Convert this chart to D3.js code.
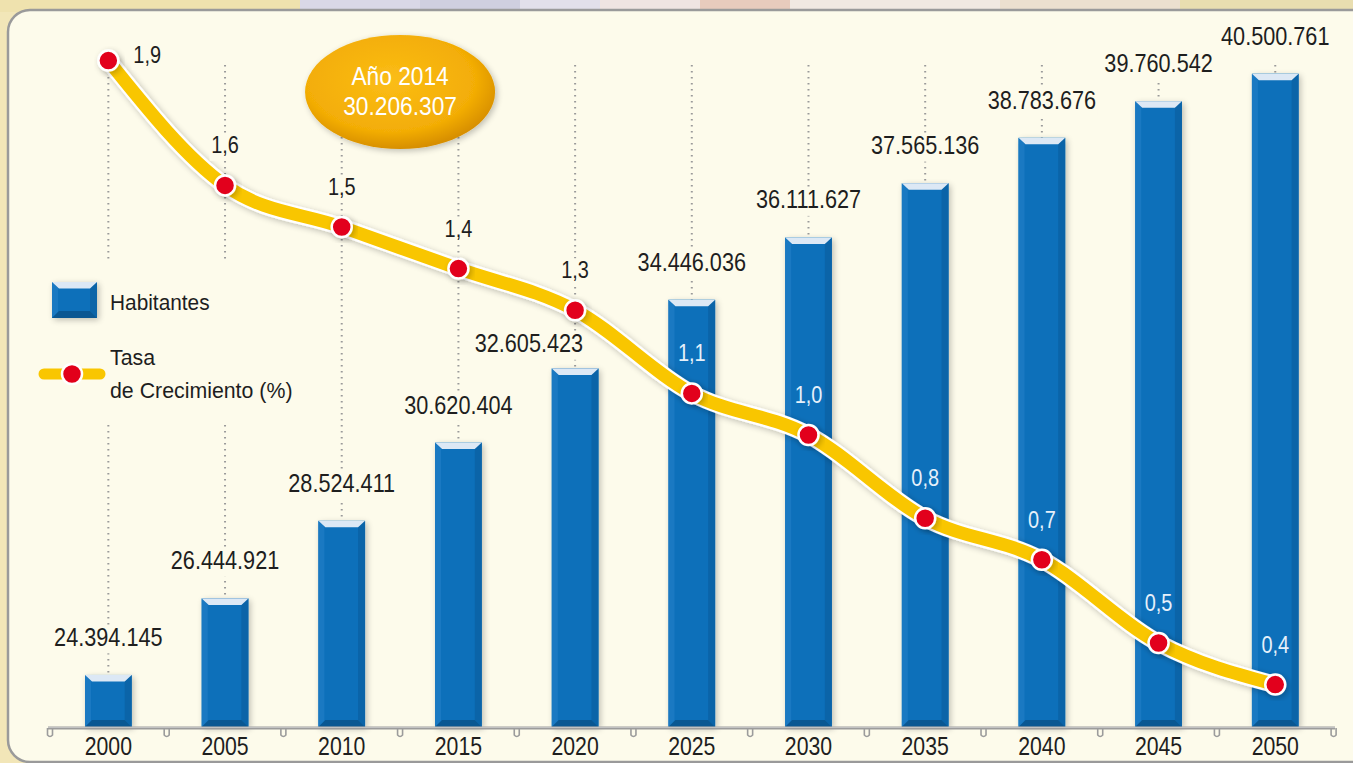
<!DOCTYPE html>
<html><head><meta charset="utf-8">
<script src="https://cdn.jsdelivr.net/npm/d3@7"></script>
<style>
html,body{margin:0;padding:0;background:#f2e6b8;overflow:hidden}
svg{display:block}
text{font-family:"Liberation Sans",Arial,Helvetica,sans-serif}
</style></head>
<body>
<svg id="chart" width="1353" height="763"></svg>
<script>
const years = ["2000","2005","2010","2015","2020","2025","2030","2035","2040","2045","2050"];
const habitantes = [24394145,26444921,28524411,30620404,32605423,34446036,36111627,37565136,38783676,39760542,40500761];
const habitantesLabels = ["24.394.145","26.444.921","28.524.411","30.620.404","32.605.423","34.446.036","36.111.627","37.565.136","38.783.676","39.760.542","40.500.761"];
const tasa = [1.9,1.6,1.5,1.4,1.3,1.1,1.0,0.8,0.7,0.5,0.4];
const tasaLabels = ["1,9","1,6","1,5","1,4","1,3","1,1","1,0","0,8","0,7","0,5","0,4"];
const highlightTitle = "Año 2014";
const highlightValue = "30.206.307";
const legendItems = ["Habitantes","Tasa","de Crecimiento (%)"];

const svg = d3.select("#chart");
const base = 727;
const CREAM = "#fdfbeb";

const x = d3.scaleBand().domain(years).range([50, 1333.6]).paddingInner(0.6).paddingOuter(0.3);
const yPop = d3.scaleLinear().domain([23e6, 41e6]).range([base, 55]);
const yRate = d3.scaleLinear().domain([0, 2]).range([851, 19]);
const cx = d => x(d) + x.bandwidth()/2;

const defs = svg.append("defs");
const sh = defs.append("filter").attr("id","shadow").attr("x","-30%").attr("y","-30%").attr("width","160%").attr("height","160%");
sh.append("feGaussianBlur").attr("in","SourceAlpha").attr("stdDeviation",3);
sh.append("feOffset").attr("dx",2).attr("dy",2).attr("result","b");
sh.append("feComponentTransfer").append("feFuncA").attr("type","linear").attr("slope",0.25);
const m = sh.append("feMerge"); m.append("feMergeNode"); m.append("feMergeNode").attr("in","SourceGraphic");

const og = defs.append("radialGradient").attr("id","oval").attr("cx","45%").attr("cy","40%").attr("r","60%");
og.append("stop").attr("offset","0%").attr("stop-color","#fbbd16");
og.append("stop").attr("offset","75%").attr("stop-color","#f3ad06");
og.append("stop").attr("offset","100%").attr("stop-color","#d78f00");

// condensed text helper
function label(parent, tx, ty, str, fs, sx, anchor, fill, mask){
  const g = parent.append("g").attr("transform",`translate(${tx},${ty}) scale(${sx},1)`);
  const t = g.append("text").attr("x",0).attr("y",0).attr("text-anchor",anchor)
    .attr("font-size",fs).attr("fill",fill).text(str);
  if(mask){
    const bb = t.node().getBBox();
    g.insert("rect","text").attr("x",bb.x-2).attr("y",bb.y+2).attr("width",bb.width+4).attr("height",bb.height).attr("fill",CREAM);
  }
  return g;
}

// background decoration outside panel
const deco = [[300,420,"#d9d8e6"],[420,520,"#cfcfe0"],[520,600,"#e2e0ea"],[600,700,"#efe4e2"],[700,790,"#e8cbbd"],[790,1000,"#f1e9e2"],[1000,1180,"#ece0cf"],[1180,1353,"#e9deb0"],[0,300,"#efe2ae"]];
svg.append("g").selectAll("rect").data(deco).join("rect")
  .attr("x",d=>d[0]).attr("y",0).attr("width",d=>d[1]-d[0]).attr("height",12).attr("fill",d=>d[2]);

// panel
svg.append("rect").attr("x",8).attr("y",10).attr("width",1370).attr("height",752).attr("rx",22)
  .attr("fill",CREAM).attr("stroke","#9a9a9a").attr("stroke-width",2.5);

// dotted guide lines
svg.append("g").selectAll("line").data(years).join("line")
  .attr("x1",d=>cx(d)).attr("x2",d=>cx(d)).attr("y1",65).attr("y2",(d,i)=>yPop(habitantes[i]))
  .attr("stroke","#9a9a9a").attr("stroke-width",2).attr("stroke-dasharray","1.6,4.4");

// legend mask
svg.append("rect").attr("x",28).attr("y",262).attr("width",290).attr("height",162).attr("fill",CREAM);

// bars
function bevelBar(g, bx, by, bw, bh){
  g.append("rect").attr("x",bx).attr("y",by).attr("width",bw).attr("height",bh).attr("fill","#0d70ba").attr("filter","url(#shadow)");
  g.append("polygon").attr("points",[[bx,by],[bx+6,by+6],[bx+6,by+bh-6],[bx,by+bh]].join(" ")).attr("fill","#1a79c2");
  g.append("polygon").attr("points",[[bx+bw,by],[bx+bw-7,by+6],[bx+bw-7,by+bh-7],[bx+bw,by+bh]].join(" ")).attr("fill","#0b64a8");
  g.append("polygon").attr("points",[[bx,by],[bx+bw,by],[bx+bw-7,by+6.5],[bx+7,by+6.5]].join(" ")).attr("fill","#dce8f5");
  g.append("polygon").attr("points",[[bx,by+bh],[bx+bw,by+bh],[bx+bw-7,by+bh-7],[bx+7,by+bh-7]].join(" ")).attr("fill","#0a5792");
}
const barsG = svg.append("g");
years.forEach((yr,i)=>{
  const top = yPop(habitantes[i]);
  bevelBar(barsG.append("g"), x(yr), top, x.bandwidth(), base - top);
});

// population labels (moved left/down when the rate line passes through the default spot)
const popG = svg.append("g");
years.forEach((yr,i)=>{
  const top = yPop(habitantes[i]);
  const ly = yRate(tasa[i]);
  let by = top - 29, bx = cx(yr), anchor = "middle";
  if (ly > by - 30 && ly < top) { by = top - 16; bx = cx(yr) + 8; anchor = "end"; }
  label(popG, bx, by, habitantesLabels[i], 25.5, 0.85, anchor, "#1e1e1e", true);
});

// axis
const axisG = svg.append("g");
axisG.append("line").attr("x1",48).attr("x2",1335).attr("y1",base+1).attr("y2",base+1).attr("stroke","#9c9c9c").attr("stroke-width",3);
axisG.append("line").attr("x1",48).attr("x2",1335).attr("y1",base+0.3).attr("y2",base+0.3).attr("stroke","#d8d8d8").attr("stroke-width",0.8);
const bounds = years.map(d=>x(d)-x.step()*x.paddingInner()/2).concat([x(years[years.length-1])+x.bandwidth()+x.step()*x.paddingInner()/2]);
axisG.selectAll("path.tk").data(bounds).join("path").attr("class","tk")
  .attr("d",b=>`M${b-2.5},${base+1} L${b-2.5},${base+8} Q${b},${base+11} ${b+2.5},${base+8} L${b+2.5},${base+1}`)
  .attr("fill","none").attr("stroke","#9c9c9c").attr("stroke-width",1.6);
const xAxis = d3.axisBottom(x).tickSize(0).tickPadding(0);
const xa = svg.append("g").attr("transform",`translate(0,${base})`).call(xAxis);
xa.select(".domain").remove();
xa.selectAll(".tick text").attr("font-size",25).attr("fill","#1e1e1e").attr("dy",0).attr("y",28)
  .attr("transform","scale(0.85,1)")
  .attr("x",0)
  .style("font-family",'"Liberation Sans",Arial,sans-serif');

// rate line
const lineGen = d3.line().x((d,i)=>cx(years[i])).y(d=>yRate(d)).curve(d3.curveMonotoneX);
svg.append("path").datum(tasa).attr("d",lineGen).attr("fill","none").attr("stroke","#ffffff").attr("stroke-width",17.5).attr("stroke-linejoin","round").attr("filter","url(#shadow)");
svg.append("path").datum(tasa).attr("d",lineGen).attr("fill","none").attr("stroke","#f9c600").attr("stroke-width",13).attr("stroke-linejoin","round");
svg.append("g").selectAll("circle").data(tasa).join("circle")
  .attr("cx",(d,i)=>cx(years[i])).attr("cy",d=>yRate(d)).attr("r",10)
  .attr("fill","#e2001a").attr("stroke","#fff").attr("stroke-width",2.5).attr("filter","url(#shadow)");

// rate labels
const rG = svg.append("g");
tasa.forEach((v,i)=>{
  const first = i===0;
  const inside = yRate(v) - 32 > yPop(habitantes[i]);
  label(rG,
    first ? cx(years[i]) + 25 : cx(years[i]),
    first ? yRate(v) + 2 : yRate(v) - 32,
    tasaLabels[i], 24, 0.83, first ? "start" : "middle",
    inside ? "#e6f0fa" : "#1e1e1e", !inside);
});

// highlight oval
const hx = (cx("2010")+cx("2015"))/2;
const ovalG = svg.append("g");
ovalG.append("ellipse").attr("cx",hx).attr("cy",92).attr("rx",95).attr("ry",57).attr("fill","url(#oval)").attr("filter","url(#shadow)");
label(ovalG, hx, 85, highlightTitle, 25, 0.91, "middle", "#fff", false);
label(ovalG, hx, 115, highlightValue, 25, 0.91, "middle", "#fff", false);

// legend
const lg = svg.append("g");
bevelBar(lg.append("g"), 52, 282, 45, 36);
label(lg, 110, 310, legendItems[0], 21.5, 0.97, "start", "#1e1e1e", false);
lg.append("line").attr("x1",44).attr("x2",100).attr("y1",374).attr("y2",374).attr("stroke","#fff").attr("stroke-width",16).attr("stroke-linecap","round").attr("filter","url(#shadow)");
lg.append("line").attr("x1",44).attr("x2",100).attr("y1",374).attr("y2",374).attr("stroke","#f9c600").attr("stroke-width",11).attr("stroke-linecap","round");
lg.append("circle").attr("cx",72).attr("cy",374).attr("r",10).attr("fill","#e2001a").attr("stroke","#fff").attr("stroke-width",2.5);
label(lg, 110, 365, legendItems[1], 22, 0.97, "start", "#1e1e1e", false);
label(lg, 110, 398, legendItems[2], 22, 0.97, "start", "#1e1e1e", false);
</script>
</body></html>
